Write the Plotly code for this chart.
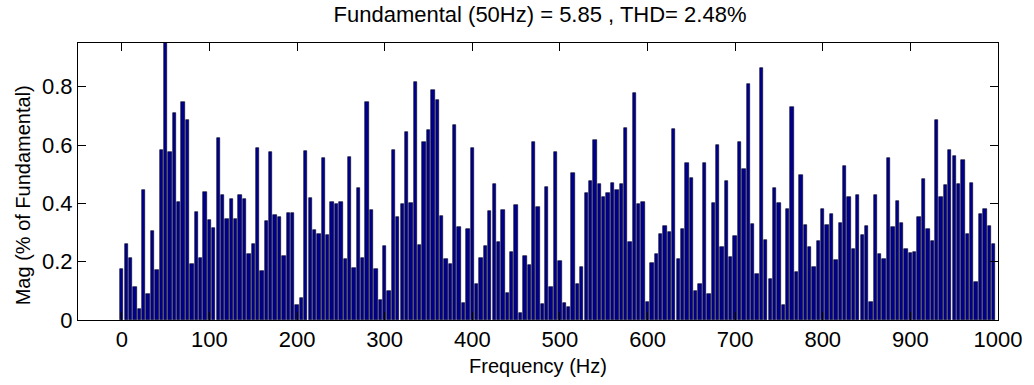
import plotly.graph_objects as go

# Frequency bins (Hz), 5 Hz resolution
frequency_hz = list(range(0, 1000, 5))

# Magnitude (% of fundamental)
magnitude = [
    0.175, 0.261, 0.212, 0.112, 0.038, 0.446, 0.088, 0.306, 0.171, 0.583,
    1.000, 0.577, 0.711, 0.405, 0.747, 0.685, 0.192, 0.372, 0.211, 0.438,
    0.344, 0.314, 0.623, 0.430, 0.348, 0.414, 0.348, 0.430, 0.414, 0.228,
    0.261, 0.591, 0.167, 0.339, 0.575, 0.359, 0.354, 0.220, 0.368, 0.368,
    0.052, 0.077, 0.580, 0.418, 0.307, 0.295, 0.555, 0.292, 0.405, 0.398,
    0.405, 0.208, 0.560, 0.179, 0.454, 0.211, 0.747, 0.376, 0.175, 0.069,
    0.253, 0.100, 0.582, 0.354, 0.397, 0.645, 0.401, 0.816, 0.258, 0.611,
    0.650, 0.789, 0.756, 0.356, 0.208, 0.193, 0.670, 0.320, 0.060, 0.311,
    0.591, 0.122, 0.212, 0.254, 0.374, 0.468, 0.266, 0.377, 0.093, 0.233,
    0.393, 0.024, 0.220, 0.188, 0.609, 0.386, 0.055, 0.455, 0.114, 0.576,
    0.203, 0.060, 0.046, 0.504, 0.125, 0.182, 0.434, 0.476, 0.619, 0.467,
    0.421, 0.437, 0.471, 0.446, 0.467, 0.660, 0.269, 0.780, 0.397, 0.405,
    0.063, 0.195, 0.225, 0.295, 0.322, 0.303, 0.655, 0.210, 0.311, 0.538,
    0.487, 0.100, 0.125, 0.538, 0.088, 0.401, 0.600, 0.249, 0.476, 0.216,
    0.287, 0.611, 0.518, 0.809, 0.328, 0.159, 0.863, 0.275, 0.141, 0.454,
    0.401, 0.052, 0.381, 0.732, 0.163, 0.496, 0.327, 0.249, 0.182, 0.270,
    0.381, 0.327, 0.365, 0.207, 0.331, 0.529, 0.423, 0.244, 0.429, 0.290,
    0.322, 0.063, 0.429, 0.228, 0.208, 0.557, 0.320, 0.409, 0.334, 0.244,
    0.229, 0.233, 0.353, 0.485, 0.311, 0.270, 0.686, 0.423, 0.463, 0.583,
    0.562, 0.467, 0.550, 0.295, 0.471, 0.130, 0.365, 0.381, 0.323, 0.261,
]

x_ticks = [0, 100, 200, 300, 400, 500, 600, 700, 800, 900, 1000]
y_ticks = [0, 0.2, 0.4, 0.6, 0.8]
y_tick_labels = ["0", "0.2", "0.4", "0.6", "0.8"]

title_text = "Fundamental (50Hz) = 5.85 , THD= 2.48%"
x_label = "Frequency (Hz)"
y_label = "Mag (% of Fundamental)"

FONT = "Liberation Sans, Arial, sans-serif"

fig = go.Figure(
    go.Bar(
        x=frequency_hz,
        y=magnitude,
        width=3.8,
        marker=dict(color="#00008C", line=dict(color="#000020", width=0.6)),
    )
)

fig.update_layout(
    width=1034,
    height=385,
    margin=dict(l=78, r=29, t=43, b=63),
    paper_bgcolor="white",
    plot_bgcolor="white",
    showlegend=False,
    font=dict(family=FONT, size=20, color="black"),
    title=dict(
        text=title_text,
        x=540 / 1034,
        xanchor="center",
        y=1 - 14 / 385,
        yanchor="middle",
        yref="container",
        font=dict(family=FONT, size=22, color="black"),
    ),
    bargap=0,
    annotations=[
        dict(
            text=y_label,
            xref="paper",
            yref="paper",
            x=(22 - 78) / 927,
            y=(322 - 196) / 279,
            xanchor="center",
            yanchor="middle",
            textangle=-90,
            showarrow=False,
            font=dict(family=FONT, size=20, color="black"),
        )
    ],
)

axis_common = dict(
    showline=True,
    linecolor="black",
    linewidth=1,
    mirror="ticks",
    ticks="inside",
    ticklen=8,
    tickcolor="black",
    tickwidth=1,
    showgrid=False,
    zeroline=False,
    tickfont=dict(family=FONT, size=22, color="black"),
)

fig.update_xaxes(
    range=[-50, 1000],
    tickvals=x_ticks,
    ticktext=[str(v) for v in x_ticks],
    title=dict(text=x_label, font=dict(family=FONT, size=20), standoff=7),
    **axis_common,
)
fig.update_yaxes(
    range=[0, 0.95],
    tickvals=y_ticks,
    ticktext=y_tick_labels,
    **axis_common,
)

fig.write_html("out.html")
